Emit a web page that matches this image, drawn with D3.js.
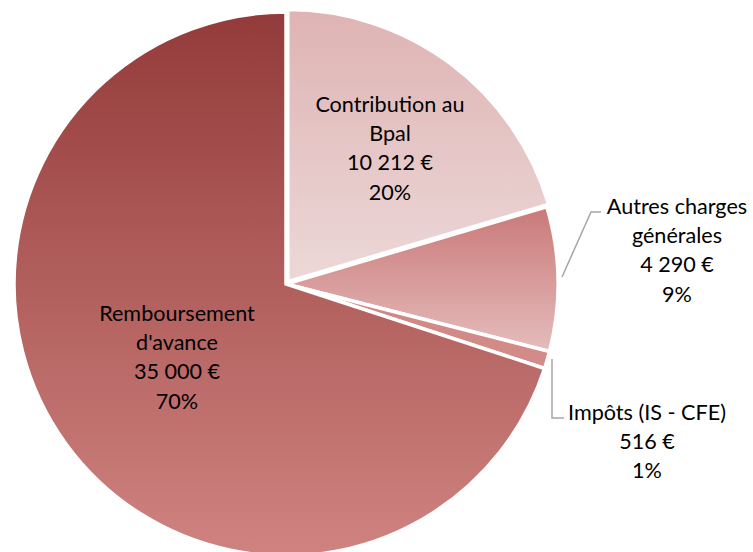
<!DOCTYPE html>
<html>
<head>
<meta charset="utf-8">
<script src="https://cdn.jsdelivr.net/npm/d3@7"></script>
<style>
body{margin:0;background:#fff;}
svg text{font-family:Lato,"Open Sans",sans-serif;font-size:21.6px;fill:#000;}
</style>
</head>
<body>
<svg id="chart" width="753" height="552"></svg>
<script>
// donnees du camembert
var categories = ["Contribution au Bpal", "Autres charges générales", "Impôts (IS - CFE)", "Remboursement d'avance"];
var valeurs = [10212, 4290, 516, 35000];
var etiquettes = [
	["Contribution au", "Bpal", "10 212 €", "20%"],
	["Autres charges", "générales", "4 290 €", "9%"],
	["Impôts (IS - CFE)", "516 €", "1%"],
	["Remboursement", "d'avance", "35 000 €", "70%"]
];
var couleursHaut = ["#dfb3b3", "#c97978", "#d08784", "#933b3a"];
var couleursBas  = ["#ecd8d8", "#e5bcbc", "#d38c89", "#cf8380"];

var svg = d3.select("#chart");
var cx = 286, cy = 284, rayon = 272;

var pie = d3.pie().sort(null).value(function(d){ return d; });
var arcs = pie(valeurs);
var arc = d3.arc().innerRadius(0).outerRadius(rayon);

var defs = svg.append("defs");
arcs.forEach(function(a, i){
	var g = defs.append("linearGradient").attr("id", "grad"+i)
		.attr("x1", 0).attr("y1", 0).attr("x2", 0).attr("y2", 1);
	g.append("stop").attr("offset", "0%").attr("stop-color", couleursHaut[i]);
	g.append("stop").attr("offset", "100%").attr("stop-color", couleursBas[i]);
});

var g = svg.append("g").attr("transform", "translate("+cx+","+cy+")");
g.selectAll("path.part").data(arcs).enter().append("path")
	.attr("class", "part")
	.attr("d", arc)
	.attr("transform", function(d, i){
		if(i != 0) return null;
		var m = (d.startAngle + d.endAngle)/2;
		return "translate("+(3*Math.sin(m))+","+(-3*Math.cos(m))+")";
	})
	.attr("fill", function(d, i){ return "url(#grad"+i+")"; })
	.attr("stroke", "#fff")
	.attr("stroke-width", 3.5)
	.attr("stroke-linejoin", "miter");

// lignes de rappel
var rappels = [
	null,
	[[562, 277], [591, 212], [601, 212]],
	[[552, 359], [552, 418], [564, 418]],
	null
];
rappels.forEach(function(pts){
	if(!pts) return;
	svg.append("path")
		.attr("d", d3.line()(pts))
		.attr("fill", "none")
		.attr("stroke", "#a6a6a6")
		.attr("stroke-width", 1.5);
});

// positions des etiquettes
var posEtiq = [[390, 104], [677, 206], [647, 412], [177, 313]];
var interligne = 29.2;
etiquettes.forEach(function(lignes, i){
	var t = svg.append("text")
		.attr("text-anchor", "middle");
	lignes.forEach(function(l, k){
		t.append("tspan")
			.attr("x", posEtiq[i][0])
			.attr("y", posEtiq[i][1] + k*interligne)
			.attr("dominant-baseline", "central")
			.text(l);
	});
});
</script>
</body>
</html>
